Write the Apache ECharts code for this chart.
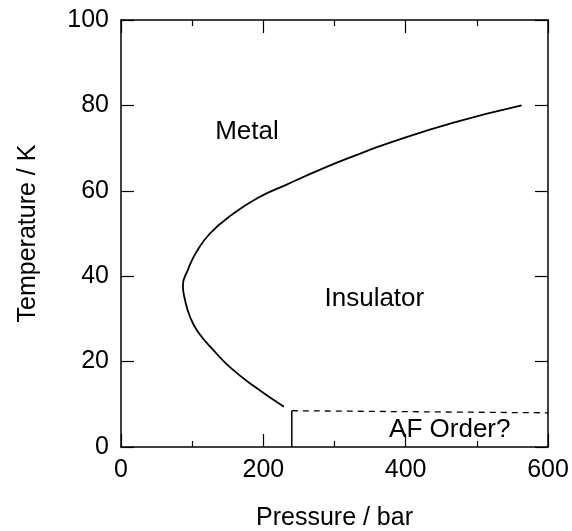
<!DOCTYPE html>
<html>
<head>
<meta charset="utf-8">
<script src="https://cdn.jsdelivr.net/npm/echarts@6/dist/echarts.min.js"></script>
<style>
  html, body { margin: 0; padding: 0; background: #fff; }
  #phaseChart { width: 572px; height: 531px; }
</style>
</head>
<body>
<div id="phaseChart"></div>
<script>
// phase boundary (pressure in bar, temperature in K)
var boundaryP = [563, 466, 377, 325, 279, 232, 192, 155, 125, 106, 94, 87, 90, 97, 108, 132, 155, 188, 229];
var boundaryT = [80, 75.9, 71.2, 68.0, 64.9, 61.4, 58.3, 54.3, 50.0, 45.7, 41.5, 37.8, 34.4, 30.5, 27.0, 22.3, 18.4, 14.1, 9.4];

// AF region edges
var afWallP = [240, 240];
var afWallT = [0, 8.5];
var afTopP = [240, 600];
var afTopT = [8.5, 8.0];

// region labels
var regionNames = ['Metal', 'Insulator', 'AF Order?'];
var regionP = [177, 356, 462];
var regionT = [73.8, 34.7, 4.0];

var xTicks = [0, 200, 400, 600];
var yTicks = [0, 20, 40, 60, 80, 100];

function pairs(xs, ys) {
	var out = [];
	for (var i = 0; i < xs.length; i++) {
		out.push([xs[i], ys[i]]);
	}
	return out;
}

var labelData = [];
for (var i = 0; i < regionNames.length; i++) {
	labelData.push({ value: [regionP[i], regionT[i]], name: regionNames[i] });
}

var fontName = 'Liberation Sans, Arial, sans-serif';
var axisColor = '#000';

function xAxisCfg(pos, showLabel) {
	return {
		type: 'value',
		position: pos,
		min: xTicks[0],
		max: xTicks[xTicks.length - 1],
		interval: 200,
		name: showLabel ? 'Pressure / bar' : '',
		nameLocation: 'middle',
		nameGap: 59,
		nameTextStyle: { fontFamily: fontName, fontSize: 25, color: '#000' },
		axisLine: { show: true, onZero: false, lineStyle: { color: axisColor, width: 1.5 } },
		axisTick: { show: true, inside: true, length: 13, lineStyle: { color: axisColor, width: 1.2 } },
		minorTick: { show: true, splitNumber: 2, length: 6, lineStyle: { color: axisColor, width: 1.2 } },
		axisLabel: { show: showLabel, margin: 11, fontFamily: fontName, fontSize: 25, color: '#000' },
		splitLine: { show: false }
	};
}

function yAxisCfg(pos, showLabel) {
	return {
		type: 'value',
		position: pos,
		min: yTicks[0],
		max: yTicks[yTicks.length - 1],
		interval: 20,
		name: showLabel ? 'Temperature / K' : '',
		nameLocation: 'middle',
		nameGap: 80,
		nameTextStyle: { fontFamily: fontName, fontSize: 25, color: '#000' },
		axisLine: { show: true, onZero: false, lineStyle: { color: axisColor, width: 1.5 } },
		axisTick: { show: true, inside: true, length: 13, lineStyle: { color: axisColor, width: 1.2 } },
		axisLabel: { show: showLabel, margin: 12, fontFamily: fontName, fontSize: 25, color: '#000' },
		splitLine: { show: false }
	};
}

var phaseChart = echarts.init(document.getElementById('phaseChart'));

var phaseOption = {
	backgroundColor: '#fff',
	animation: false,
	grid: {
		left: 121,
		right: 24,
		top: 20,
		bottom: 84,
		containLabel: false,
		outerBoundsMode: 'none'
	},
	xAxis: [xAxisCfg('bottom', true), xAxisCfg('top', false)],
	yAxis: [yAxisCfg('left', true), yAxisCfg('right', false)],
	series: [
		{
			name: 'boundary',
			type: 'line',
			data: pairs(boundaryP, boundaryT),
			smooth: 0.5,
			showSymbol: false,
			lineStyle: { color: '#000', width: 1.8 }
		},
		{
			name: 'afWall',
			type: 'line',
			data: pairs(afWallP, afWallT),
			showSymbol: false,
			lineStyle: { color: '#000', width: 1.5 }
		},
		{
			name: 'afTop',
			type: 'line',
			data: pairs(afTopP, afTopT),
			showSymbol: false,
			lineStyle: { color: '#000', width: 1.3, type: [6, 5] }
		},
		{
			name: 'regions',
			type: 'scatter',
			data: labelData,
			symbolSize: 1,
			itemStyle: { opacity: 1, color: 'rgba(0,0,0,0)' },
			label: {
				show: true,
				position: 'inside',
				formatter: '{b}',
				fontFamily: fontName,
				fontSize: 26,
				color: '#000',
				opacity: 1
			}
		}
	]
};

phaseChart.setOption(phaseOption);
</script>
</body>
</html>
